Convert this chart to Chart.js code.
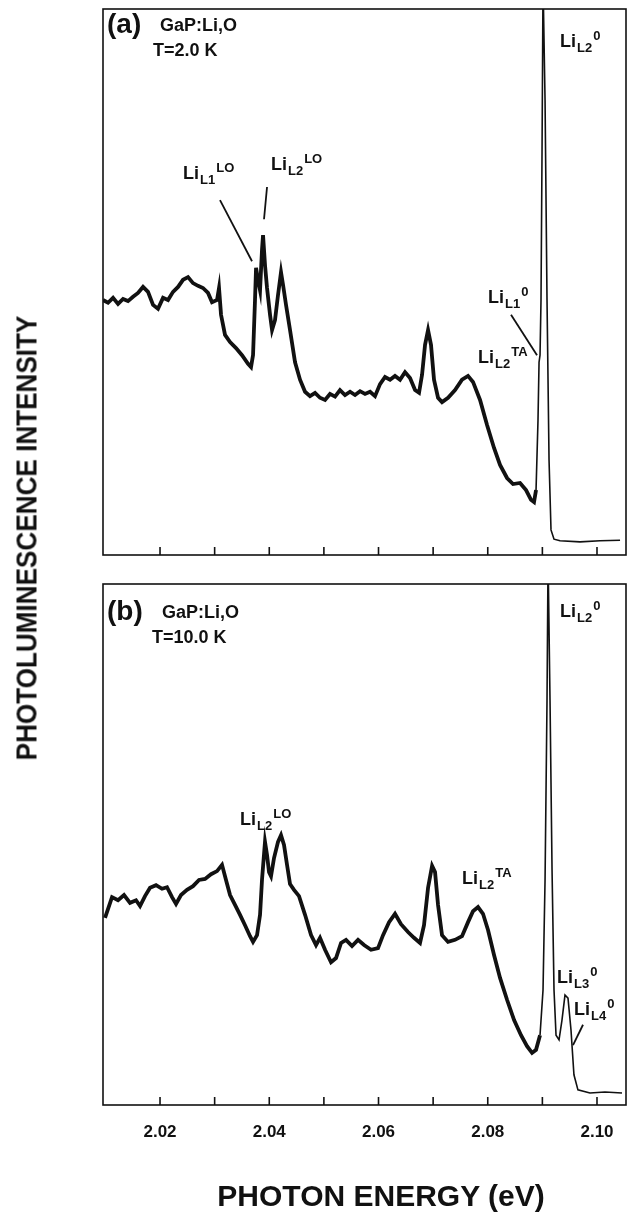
<!DOCTYPE html>
<html>
<head>
<meta charset="utf-8">
<script src="https://cdn.jsdelivr.net/npm/chart.js@4.4.0/dist/chart.umd.min.js"></script>
<style>
  body { margin: 0; background: #fff; width: 642px; height: 1222px; position: relative; overflow: hidden;
         font-family: "Liberation Sans", Arial, sans-serif; color: #111; }
  canvas { position: absolute; left: 0; }
  #chartA { top: 0; }
  #chartB { top: 575px; }
  .title { position: absolute; font-weight: bold; white-space: nowrap; line-height: 1; }
  #yTitle { left: 27px; top: 538px; font-size: 29px; transform: translate(-50%, -50%) rotate(-90deg) scaleX(0.9); }
  #xTitle { left: 381px; top: 1181px; font-size: 30px; transform: translateX(-50%); }
</style>
</head>
<body>
<canvas id="chartA" width="642" height="575"></canvas>
<canvas id="chartB" width="642" height="647"></canvas>
<div class="title" id="yTitle">PHOTOLUMINESCENCE INTENSITY</div>
<div class="title" id="xTitle">PHOTON ENERGY (eV)</div>
<script>
// photon energy (eV) and PL intensity (arb. units, 0 = frame bottom, 100 = frame top)
const energyA = [2.00956, 2.01048, 2.01140, 2.01231, 2.01323, 2.01414, 2.01506, 2.01597, 2.01689, 2.01780,
  2.01872, 2.01963, 2.02055, 2.02146, 2.02238, 2.02330, 2.02421, 2.02513, 2.02604, 2.02696,
  2.02787, 2.02879, 2.02952, 2.03044, 2.03080, 2.03117, 2.03190, 2.03282, 2.03391, 2.03501,
  2.03611, 2.03666, 2.03703, 2.03739, 2.03758, 2.03794, 2.03831, 2.03867, 2.03886, 2.03922,
  2.03959, 2.04014, 2.04051, 2.04105, 2.04160, 2.04215, 2.04252, 2.04307, 2.04380, 2.04472,
  2.04563, 2.04655, 2.04746, 2.04838, 2.04929, 2.05021, 2.05112, 2.05204, 2.05295, 2.05387,
  2.05479, 2.05570, 2.05662, 2.05753, 2.05845, 2.05936, 2.06028, 2.06119, 2.06211, 2.06302,
  2.06394, 2.06485, 2.06577, 2.06669, 2.06742, 2.06797, 2.06852, 2.06907, 2.06961, 2.07016,
  2.07090, 2.07163, 2.07273, 2.07401, 2.07529, 2.07639, 2.07730, 2.07859, 2.07987, 2.08115,
  2.08225, 2.08353, 2.08463, 2.08591, 2.08701, 2.08792, 2.08847, 2.08884, 2.08920, 2.08939,
  2.08957, 2.08975, 2.08994, 2.09012, 2.09049, 2.09085, 2.09122, 2.09158, 2.09213, 2.09323,
  2.09689, 2.10056, 2.10422];
const intensityA = [46.7, 46.2, 47.1, 46.0, 46.9, 46.5, 47.3, 48.0, 49.1, 48.2,
  45.8, 45.1, 47.1, 46.7, 48.2, 49.1, 50.4, 50.9, 49.8, 49.3,
  48.9, 48.0, 46.3, 46.7, 48.9, 44.0, 40.3, 39.0, 37.9, 36.6,
  35.0, 34.4, 36.6, 46.7, 52.6, 50.4, 48.5, 55.9, 58.6, 53.1,
  48.9, 44.0, 41.2, 43.0, 47.6, 51.8, 49.5, 45.8, 41.2, 35.3,
  32.1, 29.9, 29.1, 29.7, 28.8, 28.4, 29.5, 29.0, 30.2, 29.3,
  29.9, 29.3, 30.0, 29.5, 29.9, 29.1, 31.3, 32.6, 32.1, 32.8,
  32.1, 33.5, 32.4, 30.2, 29.7, 33.0, 38.5, 41.2, 38.5, 32.1,
  28.8, 28.0, 28.8, 30.2, 32.1, 32.8, 31.7, 28.4, 23.8, 19.6,
  16.5, 14.1, 13.0, 13.2, 11.9, 10.1, 9.7, 11.9, 24.7, 35.3,
  36.6, 46.7, 74.2, 105.0, 83.3, 46.7, 17.4, 4.6, 2.9, 2.6,
  2.4, 2.6, 2.7];

const energyB = [2.00993, 2.01121, 2.01231, 2.01341, 2.01451, 2.01561, 2.01634, 2.01725, 2.01817, 2.01927,
  2.02037, 2.02128, 2.02220, 2.02293, 2.02384, 2.02494, 2.02604, 2.02714, 2.02824, 2.02934,
  2.03044, 2.03135, 2.03208, 2.03282, 2.03373, 2.03465, 2.03556, 2.03648, 2.03703, 2.03776,
  2.03831, 2.03867, 2.03922, 2.03959, 2.03996, 2.04032, 2.04087, 2.04160, 2.04215, 2.04270,
  2.04325, 2.04380, 2.04453, 2.04545, 2.04655, 2.04765, 2.04856, 2.04929, 2.05021, 2.05131,
  2.05222, 2.05314, 2.05405, 2.05515, 2.05625, 2.05735, 2.05863, 2.05991, 2.06083, 2.06193,
  2.06302, 2.06412, 2.06540, 2.06650, 2.06760, 2.06833, 2.06907, 2.06981, 2.07035, 2.07090,
  2.07163, 2.07273, 2.07401, 2.07529, 2.07639, 2.07730, 2.07822, 2.07913, 2.08005, 2.08115,
  2.08225, 2.08353, 2.08482, 2.08609, 2.08719, 2.08811, 2.08884, 2.08957, 2.09012, 2.09049,
  2.09085, 2.09104, 2.09140, 2.09177, 2.09213, 2.09250, 2.09305, 2.09359, 2.09414, 2.09469,
  2.09524, 2.09578, 2.09651, 2.09871, 2.10146, 2.10458];
const intensityB = [35.9, 39.9, 39.3, 40.3, 38.8, 39.3, 38.2, 40.1, 41.7, 42.2,
  41.5, 41.8, 39.9, 38.6, 40.3, 41.3, 42.0, 43.2, 43.4, 44.3,
  44.9, 46.1, 43.2, 40.3, 38.4, 36.5, 34.5, 32.4, 31.3, 32.6,
  36.5, 43.2, 50.5, 48.0, 44.7, 43.9, 47.4, 50.5, 51.8, 49.9,
  46.1, 42.4, 41.3, 40.1, 36.5, 32.6, 30.7, 32.1, 29.8, 27.4,
  28.2, 31.1, 31.7, 30.5, 31.7, 30.7, 29.8, 30.1, 32.6, 35.1,
  36.7, 34.7, 33.2, 32.1, 31.1, 34.5, 41.7, 45.9, 44.7, 38.4,
  32.6, 31.3, 31.7, 32.4, 35.1, 37.2, 38.0, 36.7, 33.6, 28.8,
  24.4, 20.2, 16.3, 13.4, 11.3, 10.0, 10.6, 13.4, 22.1, 43.2,
  77.7, 105.0, 77.7, 45.1, 22.1, 13.4, 12.5, 16.3, 21.1, 20.5,
  14.4, 5.8, 2.9, 2.3, 2.5, 2.3];

const tickValues = [2.02, 2.03, 2.04, 2.05, 2.06, 2.07, 2.08, 2.09, 2.10];
const tickLabels = ["2.02", "", "2.04", "", "2.06", "", "2.08", "", "2.10"];

const X_MIN = 2.00956, X_MAX = 2.10531;
const FONT = '"Liberation Sans", Arial, sans-serif';
const INK = '#111';
// where the recording turns into the thin sharp-line part
const SHARP_A = 2.08884, SHARP_B = 2.08957;

// peak labels, placed in data coordinates
const labelsA = [
  { base: 'Li', sub: 'L1', sup: 'LO', x: 2.02421, y: 68.9 },
  { base: 'Li', sub: 'L2', sup: 'LO', x: 2.04032, y: 70.5 },
  { base: 'Li', sub: 'L1', sup: '0', x: 2.08005, y: 46.2 },
  { base: 'Li', sub: 'L2', sup: 'TA', x: 2.07822, y: 35.2 },
  { base: 'Li', sub: 'L2', sup: '0', x: 2.09323, y: 93.0 },
];
const leadersA = [[2.03098, 65.0, 2.03684, 53.8], [2.03959, 67.4, 2.03904, 61.5], [2.08426, 44.0, 2.08902, 36.6]];
const labelsB = [
  { base: 'Li', sub: 'L2', sup: 'LO', x: 2.03465, y: 53.7 },
  { base: 'Li', sub: 'L2', sup: 'TA', x: 2.07529, y: 42.4 },
  { base: 'Li', sub: 'L2', sup: '0', x: 2.09323, y: 93.7 },
  { base: 'Li', sub: 'L3', sup: '0', x: 2.09268, y: 23.4 },
  { base: 'Li', sub: 'L4', sup: '0', x: 2.09579, y: 17.3 },
];
const leadersB = [[2.09744, 15.4, 2.09561, 11.5]];

const framePlugin = {
  id: 'frame',
  afterDatasetsDraw(chart) {
    const { ctx, chartArea: a, scales: { x } } = chart;
    ctx.save();
    ctx.strokeStyle = INK;
    ctx.lineWidth = 1.6;
    ctx.strokeRect(a.left, a.top, a.right - a.left, a.bottom - a.top);
    tickValues.forEach(v => {
      const px = x.getPixelForValue(v);
      ctx.beginPath();
      ctx.moveTo(px, a.bottom);
      ctx.lineTo(px, a.bottom - 8);
      ctx.stroke();
    });
    ctx.restore();
  }
};

const notesPlugin = {
  id: 'notes',
  afterDatasetsDraw(chart, args, opts) {
    const { ctx, scales: { x, y } } = chart;
    ctx.save();
    ctx.fillStyle = INK;
    ctx.strokeStyle = INK;
    ctx.textBaseline = 'alphabetic';
    (opts.heads || []).forEach(h => {
      ctx.font = `bold ${h.size}px ${FONT}`;
      ctx.fillText(h.text, h.px, h.py);
    });
    (opts.labels || []).forEach(l => {
      let px = x.getPixelForValue(l.x);
      const py = y.getPixelForValue(l.y);
      ctx.font = `bold 18px ${FONT}`;
      ctx.fillText(l.base, px, py);
      px += ctx.measureText(l.base).width + 1;
      ctx.font = `bold 13px ${FONT}`;
      ctx.fillText(l.sub, px, py + 5);
      px += ctx.measureText(l.sub).width + 1;
      ctx.fillText(l.sup, px, py - 7);
    });
    ctx.lineWidth = 1.8;
    (opts.leaders || []).forEach(([x1, y1, x2, y2]) => {
      ctx.beginPath();
      ctx.moveTo(x.getPixelForValue(x1), y.getPixelForValue(y1));
      ctx.lineTo(x.getPixelForValue(x2), y.getPixelForValue(y2));
      ctx.stroke();
    });
    ctx.restore();
  }
};

function makeChart(id, energy, intensity, sharpFrom, showAxis, notes, bottomPad) {
  return new Chart(document.getElementById(id), {
    type: 'line',
    data: {
      datasets: [{
        data: energy.map((e, i) => ({ x: e, y: intensity[i] })),
        borderColor: INK,
        borderWidth: 3.8,
        pointRadius: 0,
        tension: 0,
        clip: 0,
        segment: {
          borderWidth: c => (c.p0.parsed.x >= sharpFrom ? 1.6 : 3.8),
        },
      }],
    },
    options: {
      responsive: false,
      animation: false,
      devicePixelRatio: 1,
      layout: { padding: { left: 103, right: 16, top: 9, bottom: bottomPad } },
      scales: {
        x: {
          type: 'linear',
          min: X_MIN,
          max: X_MAX,
          display: showAxis,
          border: { display: false },
          grid: { display: false, drawTicks: false },
          afterBuildTicks: s => { s.ticks = tickValues.map(v => ({ value: v })); },
          afterFit: s => {
            s.height = showAxis ? 60 : 0;
            s.paddingLeft = 0;
            s.paddingRight = 0;
          },
          ticks: {
            autoSkip: false,
            maxRotation: 0,
            padding: 17,
            color: INK,
            font: { family: FONT, size: 17, weight: 'bold' },
            callback: (v, i) => tickLabels[i],
          },
        },
        y: { min: 0, max: 100, display: false },
      },
      plugins: { legend: { display: false }, tooltip: { enabled: false }, notes },
    },
    plugins: [framePlugin, notesPlugin],
  });
}

makeChart('chartA', energyA, intensityA, SHARP_A, false, {
  labels: labelsA,
  leaders: leadersA,
  heads: [
    { text: '(a)', size: 28, px: 107, py: 33 },
    { text: 'GaP:Li,O', size: 18, px: 160, py: 31 },
    { text: 'T=2.0 K', size: 18, px: 153, py: 56 },
  ],
}, 20);

makeChart('chartB', energyB, intensityB, SHARP_B, true, {
  labels: labelsB,
  leaders: leadersB,
  heads: [
    { text: '(b)', size: 28, px: 107, py: 45 },
    { text: 'GaP:Li,O', size: 18, px: 162, py: 43 },
    { text: 'T=10.0 K', size: 18, px: 152, py: 68 },
  ],
}, 57);
</script>
</body>
</html>
